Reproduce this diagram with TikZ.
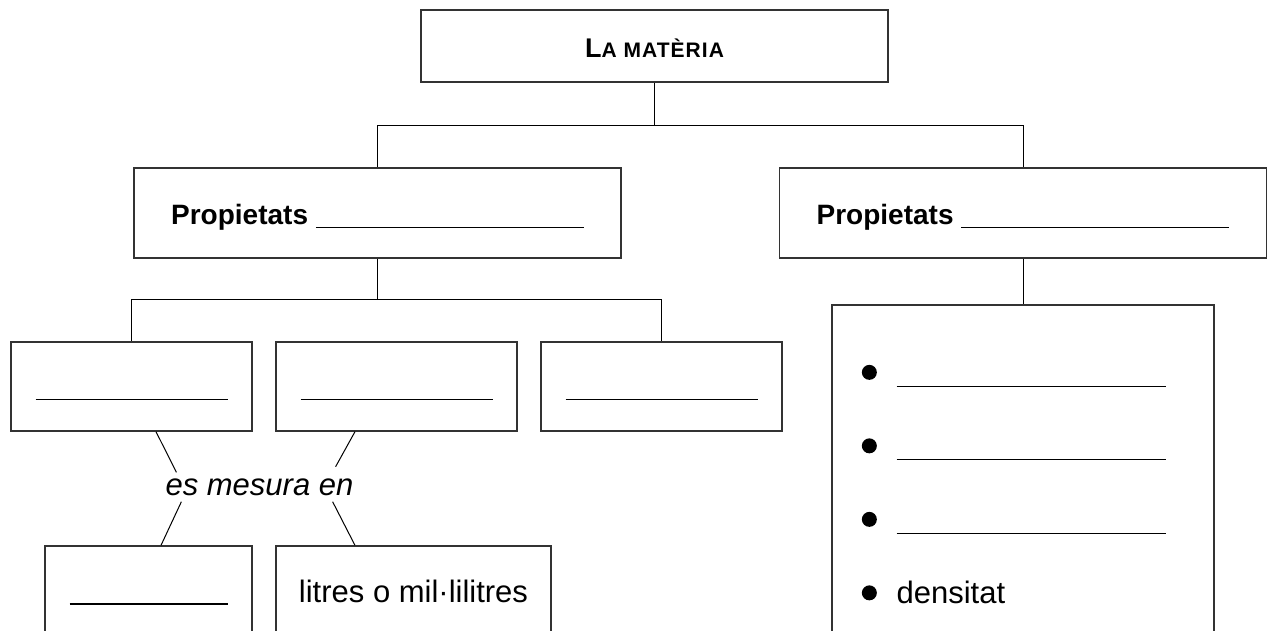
\documentclass[tikz,border=0pt]{standalone}
\usepackage{fontspec}
\setmainfont{Liberation Sans}
\usetikzlibrary{positioning}

\newcommand{\blank}[1]{\rule{#1}{1.2pt}}
\newcommand{\bigtxt}{\fontsize{31pt}{31pt}\selectfont}

\begin{document}
\begin{tikzpicture}[x=1pt,y=1pt]
\tikzstyle{box}=[rectangle, draw=black!80, line width=1.3pt, inner sep=0pt, align=center]
\tikzstyle{prop}=[box, minimum width=487pt, minimum height=90pt, text height=22pt, text depth=0pt, font=\fontsize{28pt}{28pt}\selectfont\bfseries]
\tikzstyle{gap}=[box, minimum width=241pt, minimum height=89pt, text height=27pt, text depth=0pt]
\tikzstyle{connect}=[line width=1pt]
\tikzstyle{dot}=[circle, fill=black, inner sep=0pt, minimum size=15pt, node distance=73.5pt]
\tikzstyle{fillin}=[inner sep=0pt, anchor=west]

  \useasboundingbox (0,0) rectangle (1268,-630);
  \clip (0,0) rectangle (1268,-630);

  \node[box, minimum width=467pt, minimum height=72pt, text height=23pt, text depth=0pt, font=\bfseries] (mat) at (654.5,-46)
    {{\fontsize{27pt}{27pt}\selectfont L}{\fontsize{21pt}{21pt}\selectfont\addfontfeature{LetterSpace=5}A MATÈRIA}};
  \node[prop, node distance=167pt, below of=mat, xshift=-277pt] (pl) {Propietats \rule[-4pt]{268pt}{1.2pt}};
  \node[prop, node distance=645.5pt, right of=pl] (pr) {Propietats \rule[-4pt]{268pt}{1.2pt}};

  \node[gap, node distance=173.5pt, below of=pl, xshift=-246pt] (b1) {\blank{192pt}};
  \node[gap, node distance=265pt, right of=b1] (b2) {\blank{192pt}};
  \node[gap, node distance=265pt, right of=b2] (b3) {\blank{192pt}};

  \node[inner sep=6pt, font=\bigtxt\itshape, node distance=100.5pt, below of=b1, xshift=128pt] (lbl) {es mesura en};
  \node[gap, minimum width=207pt, minimum height=90pt, node distance=204.5pt, below of=b1, xshift=17pt] (bl) {\blank{158pt}};
  \node[box, minimum width=275pt, minimum height=90pt, font=\bigtxt, node distance=265pt, right of=bl] (br) {litres o mil·lilitres};

  \node[box, minimum width=382pt, minimum height=360pt, node distance=272pt, below of=pr] (pbox) {};
  \node[dot] (d1) at ([xshift=38pt, yshift=-68pt]pbox.north west) {};
  \node[dot] (d2) [below of=d1] {};
  \node[dot] (d3) [below of=d2] {};
  \node[dot] (d4) [below of=d3] {};
  \node[fillin] (f1) at ([xshift=27pt, yshift=-14pt]d1.center) {\blank{269pt}};
  \node[fillin] (f2) at ([xshift=27pt, yshift=-14pt]d2.center) {\blank{269pt}};
  \node[fillin] (f3) at ([xshift=27pt, yshift=-14pt]d3.center) {\blank{269pt}};
  \node[inner sep=0pt, anchor=base west, font=\bigtxt] (dens) at ([xshift=27pt, yshift=-11pt]d4.center) {densitat};

  % branches
  \draw[connect] (mat.south) -- ++(0,-43) coordinate (j1) -| (pl.north);
  \draw[connect] (j1) -| (pr.north);
  \draw[connect] (pl.south) -- ++(0,-41) coordinate (j2) -| (b1.north);
  \draw[connect] (j2) -| (b3.north);

  \path (pr) edge [connect] (pbox)
        ([xshift=24.5pt]b1.south) edge [connect] ([xshift=17pt]lbl.north west)
        ([xshift=-41.5pt]b2.south) edge [connect] ([xshift=-24pt, yshift=5.6pt]lbl.north east)
        ([xshift=22pt]lbl.south west) edge [connect] ([xshift=12.5pt]bl.north)
        ([xshift=-27pt]lbl.south east) edge [connect] ([xshift=-58.5pt]br.north);

\end{tikzpicture}
\end{document}
